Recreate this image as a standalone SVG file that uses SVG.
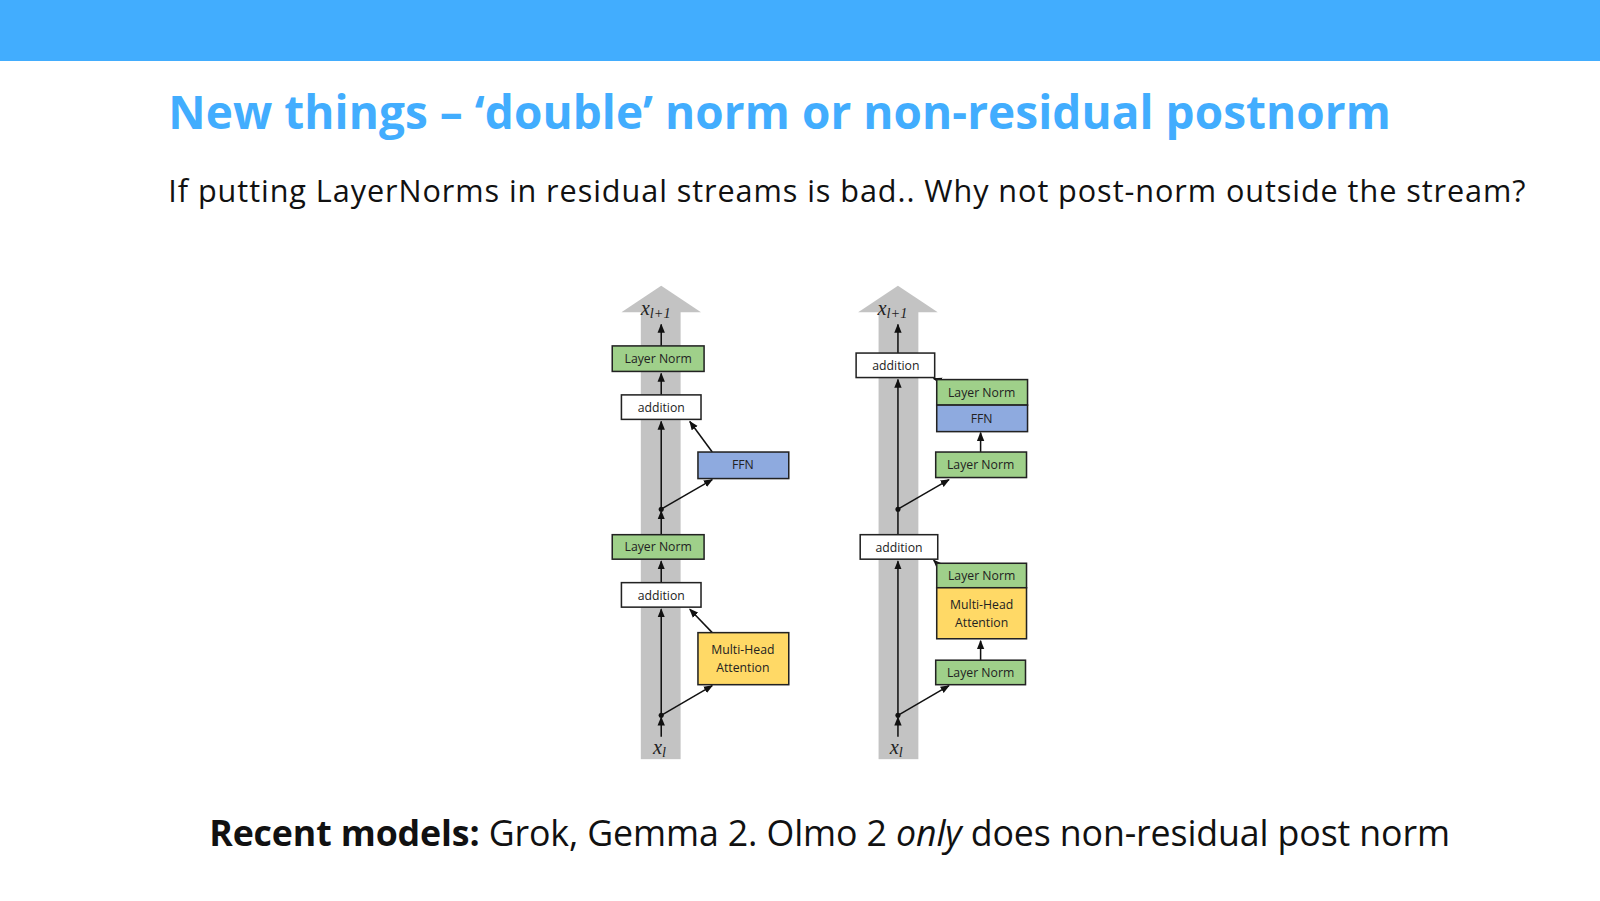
<svg xmlns="http://www.w3.org/2000/svg" width="1600" height="901" viewBox="0 0 1600 901">
<style>
.b{stroke:#222;stroke-width:1.5}
.ln{fill:#9fd08a}.ad{fill:#fff}.ff{fill:#8eaadf}.mh{fill:#ffd966}
.t{font-family:"Open Sans","Liberation Sans",sans-serif;font-size:12px;fill:#222;text-anchor:middle}
.m{font-family:"Liberation Serif",serif;font-style:italic;font-size:20px;fill:#222}
.c{stroke:#111;stroke-width:1.5;fill:none;marker-end:url(#a)}
.band{fill:#c3c3c3}
</style>
<defs><marker id="a" viewBox="0 0 10 10" refX="9" refY="5" markerWidth="6" markerHeight="6" orient="auto"><path d="M0,1L10,5L0,9z" fill="#111"/></marker></defs>
<rect x="0" y="0" width="1600" height="61" fill="#42adfe"/>
<g transform="scale(1.0204)">
<text x="165" y="126" font-family="Open Sans,Liberation Sans,sans-serif" font-weight="bold" font-size="45" fill="#42adfe" textLength="1198">New things – ‘double’ norm or non-residual postnorm</text>
<text x="165" y="198" font-family="Open Sans,Liberation Sans,sans-serif" font-size="30" fill="#111" textLength="1330">If putting LayerNorms in residual streams is bad.. Why not post-norm outside the stream?</text>
<text x="205" y="829" font-family="Open Sans,Liberation Sans,sans-serif" font-size="35" fill="#111" textLength="1216"><tspan font-weight="bold">Recent models:</tspan> Grok, Gemma 2. Olmo 2 <tspan font-style="italic">only</tspan> does non-residual post norm</text>
<g id="bands">
<rect class="band" x="628" y="305" width="39" height="439"/><path class="band" d="M609,306L648,280L687,306z"/>
<rect class="band" x="861" y="305" width="39" height="439"/><path class="band" d="M841,306L880,280L919,306z"/>
</g>
<g id="connectors">
<path class="c" d="M648,722V703"/><path class="c" d="M648,701V597"/><path class="c" d="M648,571V550"/><path class="c" d="M648,524V501"/>
<path class="c" d="M648,499V413"/><path class="c" d="M648,387V366"/><path class="c" d="M648,339V318"/>
<path class="c" d="M648,701L698,672"/><path class="c" d="M698,620L676,597"/><path class="c" d="M648,499L698,470"/><path class="c" d="M698,443L676,413"/>
<path class="c" d="M880,722V703"/><path class="c" d="M880,701V550"/><path class="c" d="M880,524V372"/><path class="c" d="M880,346V318"/>
<path class="c" d="M880,701L930,672"/><path class="c" d="M961,647V628"/><path class="c" d="M918,552L915,549"/>
<path class="c" d="M880,499L930,470"/><path class="c" d="M961,443V424"/><path class="c" d="M918,372L915,371"/>
</g>
<g id="l_ln2"><rect class="b ln" x="600" y="339" width="90" height="25"/><text class="t" x="645" y="356">Layer Norm</text></g>
<g id="l_add2"><rect class="b ad" x="609" y="387" width="78" height="24"/><text class="t" x="648" y="404">addition</text></g>
<g id="l_ffn"><rect class="b ff" x="684" y="443" width="89" height="26"/><text class="t" x="728" y="460">FFN</text></g>
<g id="l_ln1"><rect class="b ln" x="600" y="524" width="90" height="24"/><text class="t" x="645" y="540">Layer Norm</text></g>
<g id="l_add1"><rect class="b ad" x="609" y="571" width="78" height="24"/><text class="t" x="648" y="588">addition</text></g>
<g id="l_mha"><rect class="b mh" x="684" y="620" width="89" height="51"/><text class="t" x="728" y="641">Multi-Head</text><text class="t" x="728" y="659">Attention</text></g>
<circle cx="648" cy="499" r="2.5" fill="#111"/><circle cx="648" cy="701" r="2.5" fill="#111"/>
<text class="m" x="628" y="309">x<tspan font-size="14" dy="3">l+1</tspan></text>
<text class="m" x="640" y="739">x<tspan font-size="14" dy="3">l</tspan></text>
<g id="r_add2"><rect class="b ad" x="839" y="346" width="77" height="24"/><text class="t" x="878" y="363">addition</text></g>
<g id="r_ln3"><rect class="b ln" x="918" y="372" width="89" height="25"/><text class="t" x="962" y="389">Layer Norm</text></g>
<g id="r_ffn"><rect class="b ff" x="918" y="397" width="89" height="26"/><text class="t" x="962" y="415">FFN</text></g>
<g id="r_ln2"><rect class="b ln" x="917" y="443" width="89" height="25"/><text class="t" x="961" y="460">Layer Norm</text></g>
<g id="r_add1"><rect class="b ad" x="843" y="524" width="76" height="24"/><text class="t" x="881" y="541">addition</text></g>
<g id="r_ln1b"><rect class="b ln" x="918" y="552" width="88" height="24"/><text class="t" x="962" y="568">Layer Norm</text></g>
<g id="r_mha"><rect class="b mh" x="918" y="576" width="88" height="50"/><text class="t" x="962" y="597">Multi-Head</text><text class="t" x="962" y="614">Attention</text></g>
<g id="r_ln0"><rect class="b ln" x="917" y="647" width="88" height="24"/><text class="t" x="961" y="663">Layer Norm</text></g>
<circle cx="880" cy="499" r="2.5" fill="#111"/><circle cx="880" cy="701" r="2.5" fill="#111"/>
<text class="m" x="860" y="309">x<tspan font-size="14" dy="3">l+1</tspan></text>
<text class="m" x="872" y="739">x<tspan font-size="14" dy="3">l</tspan></text>
</g>
</svg>
